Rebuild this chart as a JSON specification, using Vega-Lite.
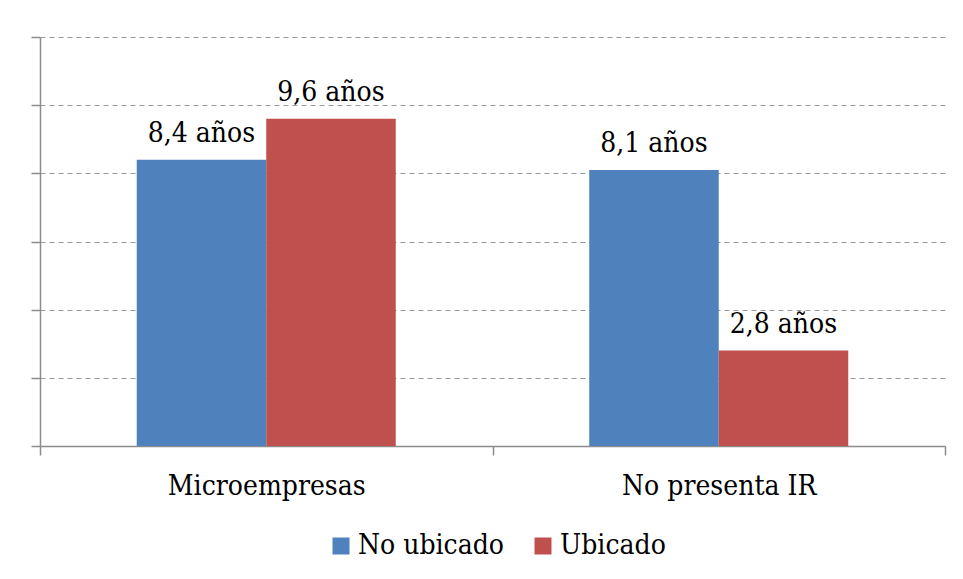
{
  "$schema": "https://vega.github.io/schema/vega-lite/v6.json",
  "width": 905,
  "height": 409,
  "autosize": "none",
  "padding": {"left": 40, "top": 37, "right": 18, "bottom": 133},
  "background": "white",
  "config": {"view": {"stroke": null}},
  "data": {
    "values": [
      {"categoria": "Microempresas", "grupo": "No ubicado", "anios": 8.4, "etiqueta": "8,4 años"},
      {"categoria": "Microempresas", "grupo": "Ubicado", "anios": 9.6, "etiqueta": "9,6 años"},
      {"categoria": "No presenta IR", "grupo": "No ubicado", "anios": 8.1, "etiqueta": "8,1 años"},
      {"categoria": "No presenta IR", "grupo": "Ubicado", "anios": 2.8, "etiqueta": "2,8 años"}
    ]
  },
  "encoding": {
    "x": {
      "field": "categoria",
      "type": "nominal",
      "sort": ["Microempresas", "No presenta IR"],
      "scale": {"paddingInner": 0, "paddingOuter": 0},
      "axis": {
        "title": null,
        "labelAngle": 0,
        "labelFont": "DejaVu Serif Condensed",
        "labelFontSize": 28,
        "labelColor": "black",
        "labelLimit": 0,
        "domainColor": "#8c8c8c",
        "domainWidth": 1.5,
        "tickColor": "#8c8c8c",
        "tickWidth": 1.5,
        "tickSize": 9,
        "tickBand": "extent",
        "labelPadding": 17,
        "grid": false
      }
    },
    "xOffset": {
      "field": "grupo",
      "type": "nominal",
      "sort": ["No ubicado", "Ubicado"],
      "scale": {"paddingInner": 0, "paddingOuter": 0.747}
    },
    "y": {
      "field": "anios",
      "type": "quantitative",
      "scale": {"domain": [0, 12], "nice": false},
      "axis": {
        "title": null,
        "labels": false,
        "values": [0, 2, 4, 6, 8, 10, 12],
        "tickSize": 9,
        "tickColor": "#8c8c8c",
        "tickWidth": 1.5,
        "domainColor": "#8c8c8c",
        "domainWidth": 1.5,
        "grid": true,
        "gridColor": "#9a9a9a",
        "gridDash": [5, 4],
        "gridWidth": 1
      }
    }
  },
  "layer": [
    {
      "mark": {"type": "bar"},
      "encoding": {
        "color": {
          "field": "grupo",
          "type": "nominal",
          "scale": {"domain": ["No ubicado", "Ubicado"], "range": ["#4F81BD", "#C0504D"]},
          "legend": {
            "orient": "none",
            "legendX": 287,
            "legendY": 495,
            "direction": "horizontal",
            "title": null,
            "symbolType": "square",
            "symbolSize": 289,
            "symbolStrokeWidth": 0,
            "symbolOpacity": 1,
            "labelFont": "DejaVu Serif Condensed",
            "labelFontSize": 28,
            "labelColor": "black",
            "labelLimit": 0,
            "labelOffset": 3,
            "columnPadding": 24,
            "padding": 0
          }
        }
      }
    },
    {
      "mark": {"type": "text", "dy": -18, "baseline": "alphabetic", "fontSize": 28, "font": "DejaVu Serif Condensed", "color": "black"},
      "encoding": {"text": {"field": "etiqueta"}}
    }
  ]
}
